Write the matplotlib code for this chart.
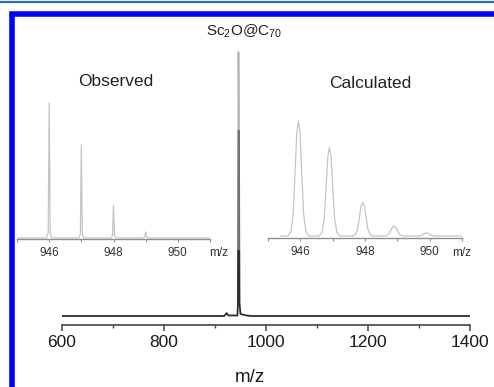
#!/usr/bin/env python3
import matplotlib
matplotlib.use("Agg")
import matplotlib.pyplot as plt
from matplotlib.patches import Rectangle
from matplotlib.lines import Line2D
from matplotlib.ticker import MultipleLocator

plt.rcParams['font.family'] = ['Liberation Sans', 'DejaVu Sans']
plt.rcParams['mathtext.fontset'] = 'custom'
plt.rcParams['mathtext.rm'] = 'Liberation Sans'
plt.rcParams['mathtext.default'] = 'regular'

# full spectrum (normalised intensity)
main_mz = [600, 918, 921, 923, 925, 928, 944, 945, 946, 947, 948, 950, 955, 962, 970, 1400]
main_int = [0, 0, 0.007, 0.011, 0.004, 0.002, 0.002, 0.05, 1.0, 0.7, 0.05, 0.008, 0.005, 0.002, 0, 0]
main_ticks = [600, 800, 1000, 1200, 1400]

# observed isotope pattern
obs_mz = [945.0, 945.92, 945.97, 946.0, 946.03, 946.08,
          946.92, 946.97, 947.0, 947.03, 947.08,
          947.92, 947.97, 948.0, 948.03, 948.08,
          948.93, 948.97, 949.0, 949.03, 949.07, 951.0]
obs_int = [0, 0, 0.04, 1.0, 0.04, 0,
           0, 0.03, 0.69, 0.03, 0,
           0, 0.02, 0.24, 0.02, 0,
           0, 0.01, 0.045, 0.01, 0, 0]

# calculated isotope pattern: peak centres, heights and the peak profile
calc_centres = [945.94, 946.9, 947.93, 948.9, 949.9]
calc_heights = [1.0, 0.77, 0.29, 0.086, 0.026]
prof_dx = [-0.32, -0.23, -0.16, -0.1, -0.05, 0, 0.05, 0.1, 0.16, 0.23, 0.32]
prof_rel = [0, 0.04, 0.2, 0.57, 0.9, 1, 0.9, 0.57, 0.2, 0.04, 0]
inset_ticks = [946, 948, 950]

calc_mz = [945.4]
calc_int = [0.0]
for c, h in zip(calc_centres, calc_heights):
    for dx, r in zip(prof_dx, prof_rel):
        calc_mz.append(c + dx)
        calc_int.append(h * r)
calc_mz.append(951.0)
calc_int.append(0.0)

W, H = 494, 387
fig = plt.figure(figsize=(W / 100, H / 100), dpi=100)


def fx(px):
    return px / W


def fy(py):
    return 1 - py / H


# main axes
ax = fig.add_axes([fx(62), fy(325), fx(470 - 62), (325 - 20) / H])
ax.plot(main_mz, main_int, '-', color='#2d2d2d', lw=1.3)
ax.set_xlim(600, 1400)
ax.set_ylim(-9 / 264, (316 - 20) / 264)
for s in ['left', 'right', 'top']:
    ax.spines[s].set_visible(False)
ax.spines['bottom'].set_color('#444444')
ax.spines['bottom'].set_linewidth(1.2)
ax.set_yticks([])
ax.set_xticks(main_ticks)
ax.xaxis.set_minor_locator(MultipleLocator(100))
ax.tick_params(axis='x', which='major', length=4, width=1.1, color='#444444',
               labelsize=12.5, pad=3, labelcolor='#1a1a1a')
ax.tick_params(axis='x', which='minor', length=2.5, width=1.0, color='#444444')
ax.set_xlabel('m/z', fontsize=13.5, color='#1a1a1a')
ax.xaxis.set_label_coords((250 - 62) / 408, (325 - 369) / 305)
ax.xaxis.label.set_va('top')


def inset(left, right, base, top, ppu, offs, mz, inten):
    a = fig.add_axes([fx(left), fy(base), fx(right - left), (base - top) / H])
    a.patch.set_alpha(0)
    a.plot(mz, inten, '-', color='#c4c4c4', lw=0.9)
    a.set_xlim(945, 951)
    ymin = -offs / ppu
    a.set_ylim(ymin, ymin + (base - top) / ppu)
    for s in ['left', 'right', 'top']:
        a.spines[s].set_visible(False)
    a.spines['bottom'].set_color('#909090')
    a.spines['bottom'].set_linewidth(1.0)
    a.set_yticks([])
    a.set_xticks(inset_ticks)
    a.xaxis.set_minor_locator(MultipleLocator(1))
    a.tick_params(axis='x', which='major', length=2.5, width=0.8, color='#909090',
                  labelsize=8.5, pad=3, labelcolor='#333333')
    a.tick_params(axis='x', which='minor', length=2.5, width=0.8, color='#909090')
    return a


inset(17, 210, 239, 95, 135, 1, obs_mz, obs_int)
inset(268, 462, 238, 110, 115, 2, calc_mz, calc_int)

fig.text(fx(219), fy(253), 'm/z', fontsize=8.5, color='#333333', ha='center', va='center')
fig.text(fx(462), fy(253), 'm/z', fontsize=8.5, color='#333333', ha='center', va='center')

fig.text(fx(116), fy(81), 'Observed', fontsize=12.5, color='#222222', ha='center', va='center')
fig.text(fx(370), fy(83), 'Calculated', fontsize=12.5, color='#222222', ha='center', va='center')
fig.text(fx(244), fy(31), 'Sc$_2$O@C$_{70}$', fontsize=11, color='#222222',
         ha='center', va='center')

# translucent pasted-image areas that lighten the top of the main peak
fig.add_artist(Rectangle((fx(230), fy(250)), fx(22), (250 - 40) / H,
                         transform=fig.transFigure, facecolor='white', alpha=0.33,
                         edgecolor='none'))
fig.add_artist(Rectangle((fx(230), fy(130)), fx(22), (130 - 40) / H,
                         transform=fig.transFigure, facecolor='white', alpha=0.5,
                         edgecolor='none'))

# frame
fig.add_artist(Rectangle((fx(12), fy(400)), fx(500), (400 - 14.5) / H,
                         transform=fig.transFigure, facecolor='none',
                         edgecolor='#0000ff', lw=4.0))
fig.add_artist(Line2D([0, 1], [fy(1.5), fy(1.5)], transform=fig.transFigure,
                      color='#2a6db5', lw=1.6))

fig.savefig('out.png', dpi=100)
